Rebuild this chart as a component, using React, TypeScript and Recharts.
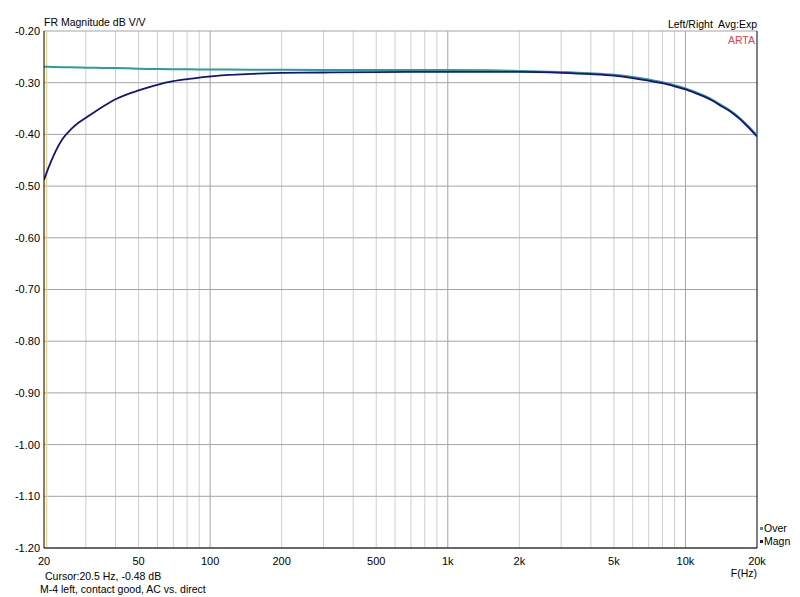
import { LineChart, Line, XAxis, YAxis, ReferenceLine } from 'recharts';

const freqs = [20, 21, 22, 24, 26, 28, 30, 33, 36, 40, 45, 50, 55, 60, 70, 80, 90, 100, 120, 150, 200, 300, 500, 700, 1000, 1500, 2000, 3000, 4000, 5000, 6000, 7000, 8000, 9000, 10000, 11000, 12000, 13000, 14000, 15000, 16000, 17000, 18000, 19000, 20000];

// "Over" trace (dB)
const overVals = [-0.269, -0.2693, -0.2696, -0.27, -0.2703, -0.2706, -0.271, -0.2712, -0.2714, -0.2716, -0.2722, -0.273, -0.2734, -0.2737, -0.274, -0.2742, -0.2744, -0.2745, -0.2747, -0.2749, -0.275, -0.2752, -0.2754, -0.2755, -0.2755, -0.276, -0.2772, -0.2792, -0.2818, -0.2848, -0.289, -0.294, -0.299, -0.305, -0.311, -0.318, -0.325, -0.333, -0.342, -0.35, -0.359, -0.369, -0.38, -0.391, -0.402];

// "Magn" trace (dB)
const magnVals = [-0.488, -0.462, -0.44, -0.408, -0.39, -0.377, -0.368, -0.355, -0.344, -0.332, -0.322, -0.315, -0.309, -0.304, -0.297, -0.293, -0.29, -0.288, -0.285, -0.283, -0.281, -0.2803, -0.2796, -0.2792, -0.279, -0.279, -0.2792, -0.281, -0.2835, -0.2865, -0.291, -0.296, -0.301, -0.307, -0.313, -0.32, -0.327, -0.335, -0.344, -0.352, -0.361, -0.371, -0.382, -0.393, -0.404];

const xLabelTicks = [20, 50, 100, 200, 500, 1000, 2000, 5000, 10000, 20000];
const yTicks = [-0.2, -0.3, -0.4, -0.5, -0.6, -0.7, -0.8, -0.9, -1.0, -1.1, -1.2];
const minorFreqs = [30, 40, 50, 60, 70, 80, 90, 200, 300, 400, 500, 600, 700, 800, 900, 2000, 3000, 4000, 5000, 6000, 7000, 8000, 9000];
const majorFreqs = [100, 1000, 10000];

const seriesNames = ['Over', 'Magn'];
const seriesColors = ['#2f9b9b', '#14147a'];

const data = freqs.map((f, i) => ({ f, over: overVals[i], magn: magnVals[i] }));

const font = '"Liberation Sans", Arial, sans-serif';

const fmtHz = (v: number) => (v >= 1000 ? `${v / 1000}k` : `${v}`);

const label = (text: string, style: React.CSSProperties) => (
  <div style={{ position: 'absolute', fontSize: 10.5, lineHeight: '11px', whiteSpace: 'pre', ...style }}>{text}</div>
);

export default function App() {
  return (
    <div style={{ position: 'absolute', left: 0, top: 0, width: 800, height: 597, background: '#fff', fontFamily: font, color: '#000' }}>
      <LineChart width={800} height={597} data={data} margin={{ top: 31, right: 43, left: 0, bottom: 0 }}>
        {minorFreqs.map((f) => (
          <ReferenceLine key={'m' + f} x={f} stroke="#cfcfcf" strokeWidth={1} />
        ))}
        {majorFreqs.map((f) => (
          <ReferenceLine key={'M' + f} x={f} stroke="#a4a4a4" strokeWidth={1} />
        ))}
        {yTicks.map((v) => (
          <ReferenceLine key={'y' + v} y={v} stroke="#a4a4a4" strokeWidth={1} />
        ))}
        <ReferenceLine x={20000} stroke="#000" strokeWidth={1} />
        <ReferenceLine x={20.5} stroke="#e6d888" strokeWidth={1.5} />
        <XAxis
          dataKey="f"
          type="number"
          scale="log"
          domain={[20, 20000]}
          ticks={xLabelTicks}
          tickFormatter={fmtHz}
          allowDataOverflow
          height={49}
          tickLine={false}
          tickSize={0}
          tickMargin={9}
          axisLine={{ stroke: '#000' }}
          tick={{ fontSize: 11, fill: '#000', fontFamily: font }}
        />
        <YAxis
          type="number"
          domain={[-1.2, -0.2]}
          ticks={yTicks}
          tickFormatter={(v: number) => v.toFixed(2)}
          allowDataOverflow
          width={44}
          tickLine={false}
          tickSize={0}
          tickMargin={4}
          axisLine={{ stroke: '#000' }}
          tick={{ fontSize: 11, fill: '#000', fontFamily: font }}
        />
        <Line type="monotone" dataKey="over" name="Over" stroke={seriesColors[0]} strokeWidth={2} dot={false} isAnimationActive={false} />
        <Line type="monotone" dataKey="magn" name="Magn" stroke={seriesColors[1]} strokeWidth={1.8} dot={false} isAnimationActive={false} />
      </LineChart>

      {label('FR Magnitude dB V/V', { left: 44, top: 17 })}
      {label('Left/Right  Avg:Exp', { right: 43, top: 19 })}
      {label('ARTA', { right: 45, top: 35, color: '#e8404a' })}
      {label('Cursor:20.5 Hz, -0.48 dB', { left: 45, top: 571 })}
      {label('M-4 left, contact good, AC vs. direct', { left: 40, top: 584 })}
      {label('F(Hz)', { right: 43, top: 568 })}

      {seriesNames.map((name, i) => (
        <div key={name} style={{ position: 'absolute', left: 760, top: 523 + i * 13, fontSize: 10.5, lineHeight: '11px', display: 'flex', alignItems: 'center' }}>
          <span style={{ display: 'inline-block', width: 3, height: 3, background: seriesColors[i], marginRight: 1 }} />
          {name}
        </div>
      ))}
    </div>
  );
}
